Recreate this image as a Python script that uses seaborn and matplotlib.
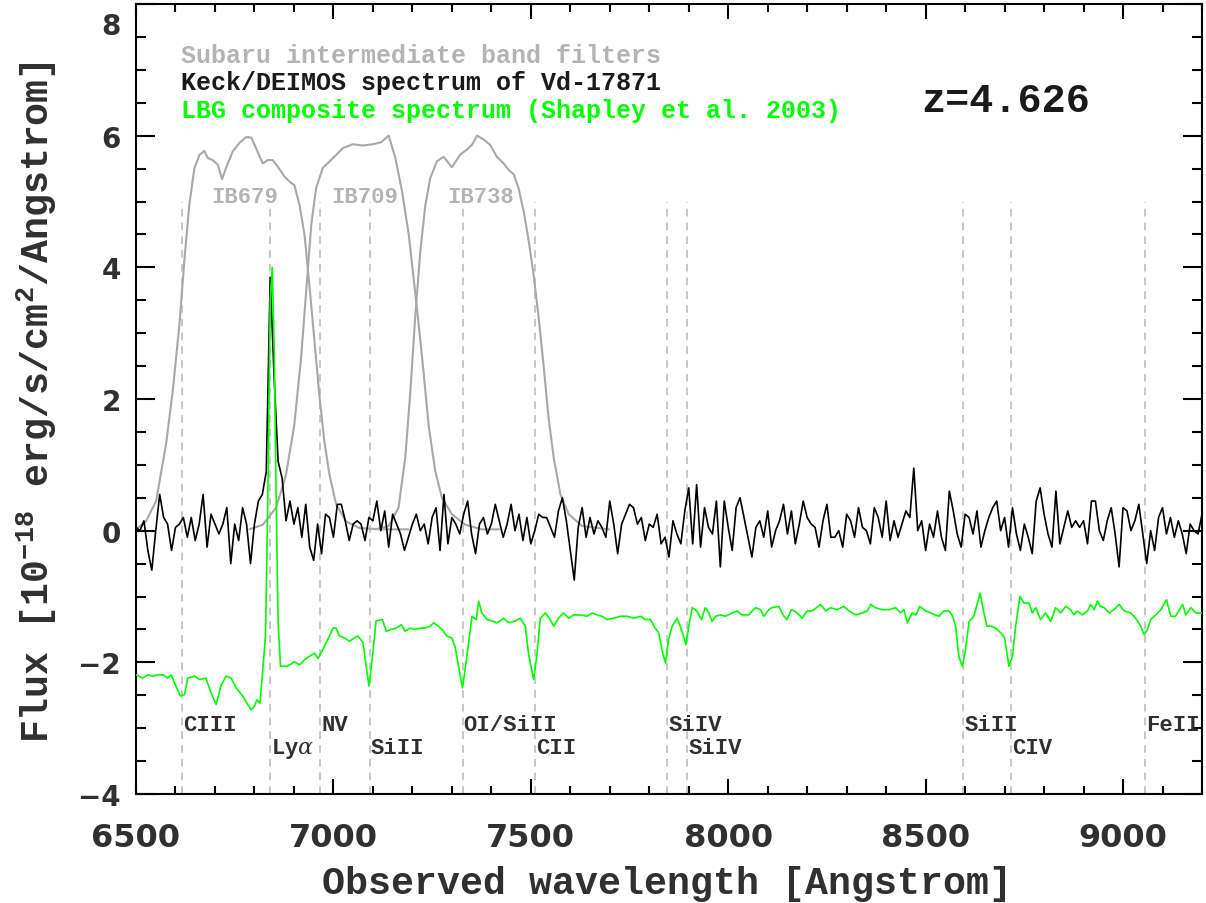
import numpy as np
import pandas as pd
import matplotlib
matplotlib.use("Agg")
import matplotlib.pyplot as plt
from matplotlib.ticker import MultipleLocator, FuncFormatter
import seaborn as sns

# ---------------- data ----------------
# Keck/DEIMOS spectrum, sampled every 10 Angstrom from 6500 to 9200
spec_start, spec_step = 6500, 10
spec_flux = [
    0.05, 0.0, 0.15, -0.3, -0.6, 0.0, 0.55, 0.2, 0.1, -0.3,
    0.05, 0.1, 0.2, -0.1, 0.2, -0.15, 0.1, 0.55, -0.25, 0.25,
    0.1, -0.05, 0.1, 0.35, -0.5, 0.1, -0.15, 0.35, 0.1, -0.5,
    0.1, 0.45, 0.55, 0.9, 3.85, 2.3, 1.05, 0.8, 0.15, 0.45,
    0.1, 0.35, -0.1, 0.4, -0.25, -0.45, 0.1, -0.35, 0.25, 0.2,
    -0.1, 0.4, 0.4, 0.15, -0.15, 0.1, 0.15, 0.1, -0.15, 0.2,
    0.15, 0.45, 0.0, 0.3, -0.25, 0.25, 0.1, -0.05, -0.3, -0.1,
    0.1, 0.25, 0.0, 0.1, -0.2, 0.2, 0.35, -0.3, 0.55, -0.2,
    0.2, 0.1, -0.05, 0.25, 0.45, -0.05, -0.35, 0.1, 0.2, -0.05,
    0.1, 0.4, 0.15, -0.1, 0.1, 0.4, 0.0, 0.25, -0.15, 0.2,
    -0.2, 0.0, 0.25, 0.2, 0.2, 0.05, -0.1, 0.3, 0.5, 0.15,
    -0.3, -0.75, 0.05, 0.35, -0.1, 0.2, -0.05, 0.15, 0.05, -0.1,
    0.45, 0.1, -0.35, 0.1, 0.25, 0.4, 0.35, 0.1, 0.2, -0.15,
    0.1, 0.05, 0.25, -0.2, -0.1, -0.4, 0.15, -0.05, -0.2, 0.3,
    0.65, -0.2, 0.7, -0.25, 0.35, 0.05, -0.05, 0.45, -0.55, 0.45,
    0.05, -0.3, 0.35, 0.5, 0.2, -0.1, -0.4, 0.05, 0.15, -0.1,
    0.3, -0.25, 0.0, 0.15, 0.4, -0.05, 0.3, -0.2, 0.1, 0.45,
    0.2, 0.1, 0.05, -0.25, 0.15, 0.4, -0.1, -0.1, 0.0, -0.25,
    0.25, 0.15, -0.1, 0.35, 0.05, 0.0, -0.2, 0.35, 0.2, -0.1,
    0.45, -0.15, 0.15, -0.1, 0.1, 0.3, 0.2, 0.95, 0.0, 0.15,
    -0.3, 0.1, -0.1, 0.3, -0.1, -0.3, 0.6, 0.3, -0.05, -0.25,
    0.25, 0.2, -0.05, 0.3, -0.25, 0.0, 0.2, 0.35, 0.45, 0.0,
    0.2, -0.25, 0.35, -0.05, -0.3, 0.1, -0.1, -0.35, 0.45, 0.65,
    0.25, -0.05, -0.25, 0.6, -0.2, 0.05, 0.3, 0.05, 0.15, 0.05,
    0.15, -0.2, 0.45, 0.45, 0.0, -0.15, 0.15, 0.35, -0.05, -0.55,
    0.35, 0.3, 0.0, 0.15, 0.4, -0.05, -0.5, 0.0, -0.3, 0.2,
    0.35, -0.05, 0.2, -0.1, 0.15, -0.05, -0.35, 0.1, 0.0, -0.05, 0.25,
]

# LBG composite spectrum (offset)
lbg_wave = [
    6500, 6517, 6530, 6542, 6555, 6568, 6580, 6589, 6601, 6612,
    6623, 6631, 6648, 6661, 6677, 6690, 6703, 6715, 6728, 6741,
    6754, 6770, 6783, 6792, 6800, 6806, 6814, 6820, 6828, 6834,
    6840, 6845, 6850, 6855, 6860, 6866, 6880, 6889, 6901, 6914,
    6927, 6939, 6952, 6961, 6973, 6986, 6999, 7007, 7015, 7028,
    7041, 7053, 7062, 7075, 7083, 7090, 7100, 7108, 7124, 7134,
    7146, 7159, 7172, 7182, 7194, 7207, 7220, 7232, 7245, 7254,
    7266, 7279, 7287, 7300, 7308, 7317, 7327, 7338, 7351, 7362,
    7368, 7376, 7389, 7401, 7414, 7423, 7431, 7444, 7461, 7473,
    7486, 7494, 7507, 7515, 7524, 7537, 7549, 7558, 7570, 7583,
    7596, 7608, 7625, 7642, 7655, 7668, 7680, 7693, 7710, 7727,
    7744, 7761, 7778, 7790, 7803, 7815, 7824, 7832, 7841, 7849,
    7858, 7871, 7883, 7893, 7900, 7909, 7921, 7932, 7942, 7951,
    7959, 7968, 7980, 7993, 8010, 8023, 8035, 8052, 8069, 8082,
    8090, 8103, 8111, 8128, 8141, 8149, 8160, 8175, 8187, 8200,
    8213, 8234, 8247, 8259, 8276, 8293, 8306, 8323, 8340, 8352,
    8361, 8373, 8390, 8407, 8424, 8437, 8445, 8454, 8466, 8476,
    8485, 8500, 8513, 8524, 8534, 8546, 8559, 8567, 8576, 8584,
    8593, 8601, 8610, 8622, 8631, 8638, 8646, 8655, 8665, 8677,
    8690, 8700, 8707, 8711, 8720, 8728, 8739, 8749, 8762, 8770,
    8779, 8791, 8804, 8817, 8829, 8842, 8855, 8867, 8876, 8884,
    8897, 8910, 8918, 8927, 8935, 8943, 8952, 8965, 8977, 8990,
    9003, 9020, 9032, 9045, 9053, 9062, 9070, 9083, 9096, 9110,
    9121, 9133, 9151, 9159, 9172, 9184, 9197, 9210,
]
lbg_flux = [
    -2.19, -2.24, -2.19, -2.21, -2.19, -2.19, -2.24, -2.19, -2.36, -2.51,
    -2.49, -2.24, -2.21, -2.26, -2.24, -2.46, -2.64, -2.36, -2.21, -2.24,
    -2.39, -2.51, -2.64, -2.72, -2.67, -2.57, -2.62, -2.20, -1.60, 0.50,
    3.50, 4.00, 2.80, 0.50, -1.40, -2.06, -2.06, -2.04, -1.99, -2.04,
    -1.96, -1.91, -1.86, -1.94, -1.81, -1.65, -1.48, -1.48, -1.60, -1.63,
    -1.68, -1.63, -1.60, -1.70, -2.06, -2.36, -1.86, -1.37, -1.35, -1.53,
    -1.50, -1.48, -1.43, -1.53, -1.48, -1.50, -1.48, -1.48, -1.45, -1.40,
    -1.45, -1.53, -1.60, -1.63, -1.76, -2.06, -2.39, -1.91, -1.30, -1.35,
    -1.07, -1.25, -1.35, -1.37, -1.40, -1.37, -1.33, -1.40, -1.37, -1.33,
    -1.45, -1.86, -2.26, -1.91, -1.33, -1.25, -1.35, -1.45, -1.33, -1.25,
    -1.33, -1.28, -1.28, -1.30, -1.25, -1.28, -1.30, -1.35, -1.33, -1.30,
    -1.30, -1.33, -1.30, -1.35, -1.35, -1.48, -1.55, -1.81, -2.01, -1.65,
    -1.45, -1.33, -1.53, -1.73, -1.45, -1.17, -1.22, -1.35, -1.17, -1.25,
    -1.38, -1.30, -1.28, -1.30, -1.25, -1.22, -1.28, -1.28, -1.17, -1.20,
    -1.30, -1.20, -1.17, -1.15, -1.30, -1.35, -1.20, -1.25, -1.33, -1.22,
    -1.22, -1.12, -1.22, -1.17, -1.20, -1.15, -1.22, -1.28, -1.25, -1.22,
    -1.12, -1.17, -1.20, -1.20, -1.17, -1.25, -1.20, -1.40, -1.25, -1.28,
    -1.15, -1.22, -1.25, -1.28, -1.30, -1.22, -1.22, -1.28, -1.45, -1.91,
    -2.06, -1.81, -1.38, -1.30, -1.10, -0.95, -1.20, -1.45, -1.45, -1.48,
    -1.55, -1.63, -1.91, -2.06, -1.91, -1.45, -1.00, -1.10, -1.10, -1.25,
    -1.17, -1.35, -1.25, -1.38, -1.17, -1.25, -1.15, -1.20, -1.28, -1.22,
    -1.28, -1.22, -1.12, -1.20, -1.07, -1.15, -1.17, -1.25, -1.20, -1.12,
    -1.22, -1.25, -1.33, -1.45, -1.58, -1.50, -1.35, -1.28, -1.20, -1.05,
    -1.30, -1.30, -1.12, -1.28, -1.17, -1.25, -1.25, -1.25,
]

# Subaru intermediate band filter curves (scaled)
ib679_wave = [6500, 6525, 6551, 6576, 6593, 6610, 6623, 6635, 6648, 6661,
              6673, 6682, 6694, 6707, 6718, 6728, 6745, 6762, 6779, 6792,
              6804, 6821, 6834, 6846, 6859, 6876, 6889, 6901, 6914, 6927,
              6939, 6952, 6965, 6977, 6990, 7007, 7032, 7066, 7121, 7190]
ib679_resp = [0.02, 0.14, 0.45, 1.31, 2.12, 3.13, 4.14, 4.95, 5.51, 5.71,
              5.77, 5.66, 5.63, 5.56, 5.34, 5.51, 5.76, 5.89, 5.98, 5.97,
              5.81, 5.58, 5.63, 5.63, 5.53, 5.38, 5.30, 5.25, 4.95, 4.49,
              3.74, 2.88, 2.02, 1.36, 0.85, 0.40, 0.14, 0.04, 0.02, 0.02]
ib709_wave = [6787, 6821, 6855, 6880, 6901, 6918, 6931, 6944, 6956, 6973,
              6999, 7024, 7049, 7075, 7100, 7121, 7140, 7157, 7174, 7191,
              7203, 7216, 7229, 7241, 7258, 7275, 7300, 7334, 7376, 7420]
ib709_resp = [0.02, 0.09, 0.35, 0.85, 1.61, 2.62, 3.63, 4.65, 5.20, 5.51,
              5.66, 5.81, 5.87, 5.85, 5.87, 5.90, 6.00, 5.66, 5.15, 4.49,
              3.84, 3.13, 2.37, 1.61, 0.90, 0.50, 0.25, 0.09, 0.02, 0.02]
ib738_wave = [7106, 7140, 7165, 7182, 7195, 7207, 7220, 7233, 7245, 7262,
              7279, 7300, 7321, 7338, 7351, 7364, 7381, 7397, 7414, 7431,
              7444, 7457, 7469, 7482, 7495, 7507, 7520, 7533, 7545, 7558,
              7575, 7596, 7630, 7698]
ib738_resp = [0.02, 0.07, 0.35, 1.11, 2.12, 3.23, 4.24, 4.95, 5.35, 5.61,
              5.68, 5.52, 5.71, 5.79, 5.86, 6.00, 5.94, 5.86, 5.68, 5.58,
              5.48, 5.41, 5.20, 4.85, 4.39, 3.89, 3.23, 2.47, 1.71, 1.11,
              0.55, 0.25, 0.07, 0.02]
filter_names = ["IB679", "IB709", "IB738"]
filter_label_wave = [6775, 7078, 7373]

# spectral features
line_names = ["CIII", r"Ly$\mathit{\alpha}$", "NV", "SiII", "OI/SiII", "CII",
              "SiIV", "SiIV", "SiII", "CIV", "FeII"]
line_waves = [6616, 6840, 6966, 7092, 7327, 7510, 7845, 7896, 8595, 8717, 9056]
line_row = [0, 1, 0, 1, 0, 1, 0, 1, 0, 1, 0]

legend_texts = ["Subaru intermediate band filters",
                "Keck/DEIMOS spectrum of Vd-17871",
                "LBG composite spectrum (Shapley et al. 2003)"]
redshift_text = "z=4.626"

# ---------------- style ----------------
sns.set_theme(style="ticks")
plt.rcParams['font.family'] = ['DejaVu Sans']
plt.rcParams.update({
    'mathtext.fontset': 'custom',
    'mathtext.rm': 'Liberation Mono:bold',
    'mathtext.bf': 'Liberation Mono:bold',
    'mathtext.it': 'DejaVu Serif:italic',
    'mathtext.default': 'rm',
    'axes.linewidth': 1.5,
    'axes.edgecolor': 'black',
})

GRAY = '#a8a8a8'
LABEL_GRAY = '#b4b4b4'
GREEN = '#00ff00'
DARK = '#303030'
MONO = ['Liberation Mono', 'DejaVu Sans Mono']

fig = plt.figure(figsize=(12.06, 9.04), dpi=100)
ax = fig.add_axes([136 / 1206, 1 - 795 / 904, 1066 / 1206, 790 / 904])

spec_wave = np.arange(len(spec_flux)) * spec_step + spec_start
df_spec = pd.DataFrame({"wave": spec_wave, "flux": spec_flux})
df_lbg = pd.DataFrame({"wave": lbg_wave, "flux": lbg_flux})

# dashed feature markers
ax.vlines(line_waves, -4, 5, colors='#b8b8b8', linestyles=(0, (5, 4)),
          linewidth=1.1, zorder=1)

for w, r in [(ib679_wave, ib679_resp), (ib709_wave, ib709_resp),
             (ib738_wave, ib738_resp)]:
    sns.lineplot(x=w, y=r, ax=ax, color=GRAY, linewidth=1.5, sort=False,
                 estimator=None, legend=False, zorder=2)

sns.lineplot(data=df_spec, x="wave", y="flux", ax=ax, color='black',
             linewidth=1.2, sort=False, estimator=None, legend=False, zorder=3)
sns.lineplot(data=df_lbg, x="wave", y="flux", ax=ax, color=GREEN,
             linewidth=1.2, sort=False, estimator=None, legend=False, zorder=4)

# feature labels
row_y = [-2.94, -3.30]
for name, w, r in zip(line_names, line_waves, line_row):
    ax.text(w + 3, row_y[r], name, family=MONO, fontweight='bold',
            fontsize=16, color=DARK, ha='left', va='center', zorder=5)

for name, w in zip(filter_names, filter_label_wave):
    ax.text(w, 5.07, name, family=MONO, fontweight='bold', fontsize=16,
            color=LABEL_GRAY, ha='center', va='center', zorder=5)

legend_colors = [LABEL_GRAY, '#1a1a1a', GREEN]
legend_y = [7.23, 6.82, 6.39]
for t, c, y in zip(legend_texts, legend_colors, legend_y):
    ax.text(6614, y, t, family=MONO, fontweight='bold', fontsize=18,
            color=c, ha='left', va='center', zorder=5)

ax.text(8488, 6.54, redshift_text, family=MONO, fontweight='bold',
        fontsize=29, color='#1a1a1a', ha='left', va='center', zorder=5)

# axes
YMIN, YMAX = -4, 8
ax.set_xlim(6500, 9200)
ax.set_ylim(YMIN, YMAX)
ax.xaxis.set_major_locator(MultipleLocator(500))
ax.xaxis.set_minor_locator(MultipleLocator(100))
ax.yaxis.set_major_locator(MultipleLocator(2))
ax.yaxis.set_minor_locator(MultipleLocator(0.5))
# top tick label is drawn separately (shifted down so it stays inside the figure)
ax.yaxis.set_major_formatter(FuncFormatter(
    lambda v, p: "" if abs(v - YMAX) < 1e-6 else f"{v:g}".replace("-", "\u2212")))
ax.tick_params(which='both', direction='in', top=True, right=True,
               width=1.5, color='black')
ax.tick_params(axis='x', which='major', length=10.5, pad=20,
               labelsize=23, labelcolor=DARK)
ax.tick_params(axis='x', which='minor', length=5.5)
ax.tick_params(axis='y', which='major', length=14, pad=11,
               labelsize=20, labelcolor=DARK)
ax.tick_params(axis='y', which='minor', length=7)
for lab in ax.get_xticklabels() + ax.get_yticklabels():
    lab.set_fontweight('bold')
ax.annotate(f"{YMAX:g}", xy=(0, YMAX), xycoords=('axes fraction', 'data'),
            xytext=(-11, -6), textcoords='offset points', ha='right',
            va='top', fontsize=20, fontweight='bold', color=DARK,
            annotation_clip=False)

ax.set_xlabel("Observed wavelength [Angstrom]", family=MONO,
              fontweight='bold', fontsize=27.5, color=DARK)
ax.set_ylabel(r"Flux [10$^{-18}$ erg/s/cm$^{2}$/Angstrom]", family=MONO,
              fontweight='bold', fontsize=27.5, color=DARK)
ax.xaxis.set_label_coords(0.498, -0.113)
ax.xaxis.label.set_va('center')
ax.yaxis.set_label_coords(-0.093, 0.497)
ax.yaxis.label.set_va('center')

for s in ax.spines.values():
    s.set_linewidth(1.5)
    s.set_color('black')

fig.savefig("out.png", dpi=100)
